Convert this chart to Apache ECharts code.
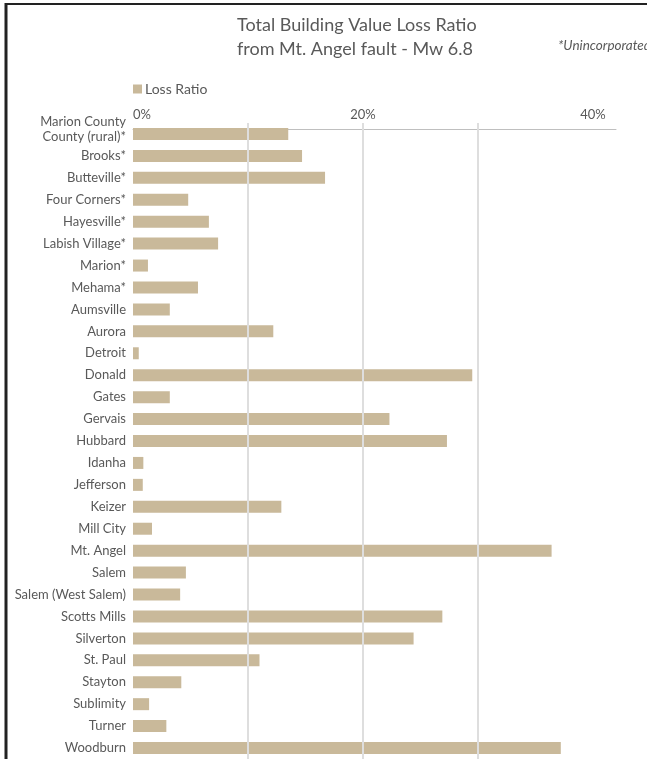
<!DOCTYPE html>
<html>
<head>
<meta charset="utf-8">
<script src="https://cdn.jsdelivr.net/npm/echarts@6/dist/echarts.min.js"></script>
<style>
  html, body { margin: 0; padding: 0; background: #fff; }
  #container { width: 647px; height: 759px; }
</style>
</head>
<body>
<div id="container"></div>
<script>
var dom = document.getElementById("container");
var myChart = echarts.init(dom);

// places, top to bottom
var places = [
    'Marion County\nCounty (rural)*', 'Brooks*', 'Butteville*', 'Four Corners*',
    'Hayesville*', 'Labish Village*', 'Marion*', 'Mehama*', 'Aumsville',
    'Aurora', 'Detroit', 'Donald', 'Gates', 'Gervais', 'Hubbard', 'Idanha',
    'Jefferson', 'Keizer', 'Mill City', 'Mt. Angel', 'Salem',
    'Salem (West Salem)', 'Scotts Mills', 'Silverton', 'St. Paul', 'Stayton',
    'Sublimity', 'Turner', 'Woodburn'
];

// loss ratio
var lossRatio = [
    0.135, 0.147, 0.167, 0.048,
    0.066, 0.074, 0.013, 0.0565, 0.032,
    0.122, 0.005, 0.295, 0.032, 0.223, 0.273, 0.009,
    0.0085, 0.129, 0.0165, 0.364, 0.046,
    0.041, 0.269, 0.244, 0.110, 0.042,
    0.014, 0.029, 0.372
];

var gridValues = [0.1, 0.2, 0.3];
var labelValues = [0, 0.2, 0.4];

var textColor = '#595959';
var font = 'Lato';

option = {
    backgroundColor: '#fff',
    textStyle: { fontFamily: font },
    title: [{
        text: 'Total Building Value Loss Ratio\nfrom Mt. Angel fault - Mw 6.8',
        left: 232,
        top: 8,
        textStyle: {
            color: textColor,
            fontFamily: font,
            fontWeight: 'normal',
            fontSize: 18,
            lineHeight: 24
        }
    }, {
        text: '*Unincorporated',
        left: 553,
        top: 34,
        textStyle: {
            color: textColor,
            fontFamily: font,
            fontStyle: 'italic',
            fontWeight: 'normal',
            fontSize: 13.5
        }
    }],
    legend: {
        left: 128,
        top: 77,
        itemWidth: 9,
        itemHeight: 9,
        itemGap: 4,
        icon: 'rect',
        textStyle: { color: textColor, fontSize: 14, fontFamily: font, padding: [0, 0, 0, -2] },
        data: ['Loss Ratio']
    },
    grid: {
        left: 133,
        right: 31,
        top: 123,
        height: 639,
        containLabel: false
    },
    xAxis: {
        type: 'value',
        position: 'top',
        min: 0,
        max: 0.42,
        interval: 0.1,
        offset: -6,
        axisLine: { show: true, lineStyle: { color: '#bfbfbf', width: 1 } },
        axisTick: { show: true, length: 4, customValues: gridValues, lineStyle: { color: '#bfbfbf' } },
        axisLabel: {
            customValues: labelValues,
            color: textColor,
            fontSize: 13,
            margin: 8,
            alignMinLabel: 'left',
            formatter: function (v) { return Math.round(v * 100) + '%'; }
        },
        splitLine: { show: false }
    },
    yAxis: {
        type: 'category',
        inverse: true,
        data: places,
        axisLine: { show: false },
        axisTick: { show: false },
        axisLabel: {
            color: textColor,
            fontSize: 13,
            margin: 7,
            lineHeight: 15,
            interval: 0,
            rich: {
                up: { padding: [0, 0, 9, 0], fontSize: 13, lineHeight: 15, color: textColor, align: 'right' }
            },
            formatter: function (v) {
                // the wrapped first label sits above its bar
                if (v.indexOf('\n') >= 0) {
                    return '{up|' + v + '}';
                }
                return v;
            }
        }
    },
    graphic: [
        { type: 'line', shape: { x1: 5, y1: 4, x2: 647, y2: 4 }, style: { stroke: '#222', lineWidth: 2 } },
        { type: 'line', shape: { x1: 6, y1: 3, x2: 6, y2: 759 }, style: { stroke: '#222', lineWidth: 3 } }
    ],
    series: [{
        name: 'Loss Ratio',
        type: 'bar',
        barWidth: 12,
        itemStyle: { color: '#c9b99a' },
        data: lossRatio,
        // gridlines are drawn over the bars in the original
        markLine: {
            silent: true,
            symbol: ['none', 'none'],
            label: { show: false },
            lineStyle: { color: '#dedede', width: 2, type: 'solid' },
            data: gridValues.map(function (v) { return { xAxis: v }; })
        }
    }]
};

myChart.setOption(option, true);
</script>
</body>
</html>
